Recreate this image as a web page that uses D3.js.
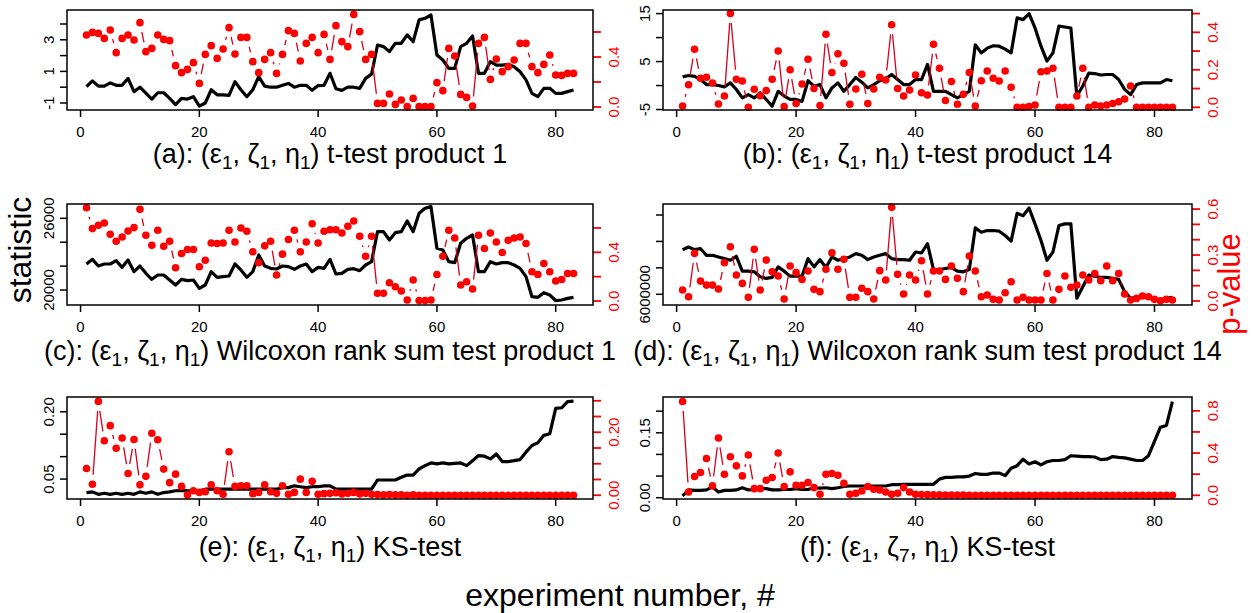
<!DOCTYPE html>
<html><head><meta charset="utf-8">
<script src="https://cdn.jsdelivr.net/npm/d3@7"></script>
<style>body{margin:0;background:#fff} text{font-family:"Liberation Sans",Arial,sans-serif}</style>
</head><body><svg id="chart" width="1251" height="613"></svg>
<script>
const experiments = d3.range(1, 84);
const xTicks = [0, 20, 40, 60, 80];

const statA = [0.03,0.4,0.07,0.07,0.27,0.12,0.12,0.56,-0.28,0.0,-0.37,-0.75,-0.35,-0.35,-0.71,-1.1,-0.71,-0.75,-0.6,-1.2,-1.0,-0.16,-0.48,-0.48,-0.52,0.35,-0.16,-0.6,-0.16,0.67,0.07,0.0,0.0,0.12,0.24,0.0,0.12,0.12,-0.2,0.1,0.12,0.88,-0.1,-0.2,0.0,0.0,-0.07,0.56,0.83,2.67,2.57,2.25,2.78,2.78,3.31,2.88,4.26,4.36,4.57,2.04,1.72,1.19,1.19,2.57,2.78,3.24,0.88,0.88,1.62,1.4,1.4,1.45,1.3,0.98,0.46,-0.39,-0.6,-0.07,-0.07,-0.39,-0.39,-0.28,-0.18];
const pA = [0.576,0.597,0.589,0.549,0.616,0.435,0.549,0.576,0.536,0.675,0.443,0.469,0.576,0.541,0.531,0.331,0.275,0.301,0.355,0.189,0.421,0.491,0.389,0.464,0.635,0.424,0.557,0.557,0.363,0.275,0.381,0.435,0.269,0.421,0.611,0.589,0.368,0.509,0.557,0.435,0.581,0.381,0.651,0.523,0.483,0.741,0.603,0.381,0.421,0.029,0.029,0.104,0.021,0.056,0.003,0.069,0.003,0.003,0.003,0.195,0.131,0.469,0.408,0.101,0.077,0.008,0.509,0.557,0.221,0.384,0.283,0.323,0.376,0.509,0.509,0.323,0.275,0.341,0.416,0.256,0.253,0.269,0.269];

const statB = [1.8,2.1,1.9,1.25,0.2,0.2,0.0,-0.28,0.56,-0.83,-2.57,-1.9,-2.57,-1.5,-2.9,-4.3,-1.2,-2.2,-2.9,-2.9,-3.3,1.0,-0.14,0.2,-2.57,-0.5,0.56,-1.2,0.2,1.7,0.7,-0.5,0.2,1.0,1.4,2.3,1.25,0.2,0.2,1.25,1.25,4.4,-1.2,-1.2,-1.2,-1.9,-2.57,-1.9,-1.2,8.5,6.8,7.8,8.3,8.2,7.6,6.8,14.1,13.75,15.0,12.0,8.2,5.1,6.8,12.4,12.2,12.0,-2.2,-0.1,2.6,2.5,2.2,2.3,2.3,1.25,-0.8,-1.9,0.2,0.56,0.56,0.56,0.56,1.25,1.0];
const pB = [0.007,0.12,0.31,0.155,0.16,0.13,0.018,0.06,0.5,0.15,0.14,0.0,0.096,0.062,0.089,0.15,0.3,0.004,0.2,0.02,0.124,0.256,0.1,0.01,0.39,0.185,0.285,0.235,0.016,0.098,0.176,0.02,0.098,0.16,0.146,0.44,0.1,0.06,0.092,0.172,0.078,0.066,0.336,0.208,0.036,0.137,0.016,0.069,0.185,0.007,0.142,0.194,0.155,0.14,0.194,0.107,0.0,0.0,0.004,0.012,0.19,0.194,0.208,0.0,0.0,0.0,0.06,0.208,0.0,0.012,0.007,0.012,0.02,0.03,0.044,0.114,0.0,0.0,0.0,0.0,0.0,0.0,0.0];

const statC = [22176,22567,22009,22176,22176,22455,21897,22511,21535,22009,21395,20893,21256,21256,20837,20419,20893,20781,20837,20140,20419,21535,21060,21116,21172,22176,21674,21060,21535,22930,22009,21814,21758,22009,21953,21730,22009,22176,21535,21897,21814,22567,21339,21395,21730,21786,21618,22093,22372,24883,24883,24185,24799,24883,25776,24883,26417,26836,26975,23488,23348,22372,22288,23906,24325,24604,21535,21535,22372,22176,22288,22288,22093,21814,21116,19442,19386,19777,19582,19107,19163,19302,19386];
const pC = [0.766,0.595,0.622,0.641,0.548,0.491,0.526,0.575,0.603,0.753,0.54,0.458,0.581,0.45,0.491,0.273,0.39,0.423,0.423,0.281,0.335,0.477,0.472,0.477,0.581,0.485,0.6,0.573,0.404,0.314,0.453,0.491,0.213,0.385,0.505,0.581,0.404,0.485,0.635,0.477,0.573,0.586,0.586,0.559,0.614,0.657,0.532,0.368,0.532,0.063,0.063,0.15,0.117,0.082,0.008,0.172,0.003,0.003,0.008,0.218,0.368,0.581,0.518,0.131,0.158,0.098,0.54,0.431,0.559,0.485,0.398,0.499,0.518,0.526,0.472,0.24,0.218,0.308,0.24,0.164,0.177,0.226,0.226];

const statD = [7687500,7787500,7687500,7725000,7475000,7475000,7412500,7350000,7287500,7437500,6875000,6875000,6850000,6662500,6600000,6637500,7037500,6875000,6687500,6687500,6687500,7350000,7037500,7312500,7012500,7412500,7287500,7350000,7412500,7537500,7475000,7312500,7412500,7475000,7537500,7350000,7312500,7312500,7287500,7600000,7562500,7912500,6937500,6937500,6975000,7012500,6875000,6850000,6937500,8512500,8350000,8412500,8412500,8387500,8225000,8012500,9062500,8975000,9262500,8662500,8037500,7287500,7600000,8600000,8662500,8662500,5850000,6287500,6725000,6687500,6637500,6637500,6600000,6562500,6100000,5850000,5887500,5912500,5850000,5812500,5787500,5850000,5887500];
const pD = [0.072,0.028,0.311,0.13,0.104,0.104,0.078,0.25,0.354,0.17,0.115,0.024,0.337,0.072,0.267,0.191,0.163,0.013,0.228,0.185,0.141,0.196,0.076,0.061,0.207,0.315,0.207,0.272,0.024,0.024,0.083,0.061,0.013,0.198,0.137,0.611,0.174,0.046,0.17,0.137,0.263,0.046,0.196,0.196,0.141,0.228,0.148,0.061,0.293,0.196,0.028,0.039,0.011,0.007,0.054,0.126,0.007,0.024,0.007,0.007,0.007,0.18,0.007,0.076,0.163,0.089,0.104,0.17,0.137,0.18,0.133,0.228,0.133,0.18,0.046,0.007,0.017,0.033,0.028,0.011,0.002,0.011,0.007];

const statE = [0.020,0.0215,0.016,0.0185,0.016,0.0185,0.016,0.0185,0.016,0.0215,0.0185,0.0215,0.016,0.020,0.0215,0.024,0.025,0.024,0.024,0.024,0.0275,0.0275,0.0275,0.0275,0.0275,0.0275,0.0275,0.0275,0.0275,0.0275,0.0275,0.0275,0.0275,0.031,0.031,0.035,0.033,0.031,0.033,0.033,0.035,0.035,0.0275,0.0275,0.0275,0.0275,0.0275,0.0275,0.0275,0.048,0.048,0.048,0.048,0.054,0.059,0.059,0.0725,0.080,0.086,0.084,0.086,0.084,0.085,0.086,0.080,0.091,0.1025,0.101,0.095,0.106,0.089,0.089,0.091,0.0935,0.11,0.125,0.131,0.1475,0.151,0.2075,0.209,0.2225,0.224];
const pE = [0.085,0.035,0.298,0.173,0.221,0.149,0.182,0.069,0.177,0.033,0.06,0.197,0.176,0.083,0.04,0.067,0.028,0.001,0.014,0.009,0.011,0.033,0.014,0.003,0.138,0.028,0.03,0.03,0.005,0.009,0.033,0.011,0.006,0.03,0.003,0.009,0.051,0.009,0.044,0.003,0.005,0.006,0.008,0.004,0.006,0.009,0.004,0.006,0.003,0.002,0.001,0.002,0.001,0.001,0.0,0.001,0,0,0,0,0,0,0,0,0,0,0,0,0,0,0,0,0,0,0,0,0,0,0,0,0,0,0];

const statF = [0.004,0.018,0.017,0.017,0.018,0.025,0.013,0.017,0.017,0.018,0.023,0.018,0.019,0.021,0.021,0.018,0.018,0.019,0.019,0.021,0.019,0.019,0.023,0.022,0.023,0.021,0.023,0.026,0.027,0.027,0.027,0.027,0.027,0.027,0.027,0.030,0.030,0.031,0.031,0.031,0.031,0.031,0.031,0.043,0.047,0.047,0.048,0.048,0.050,0.056,0.054,0.054,0.057,0.057,0.051,0.068,0.074,0.089,0.078,0.083,0.076,0.083,0.086,0.086,0.088,0.097,0.096,0.095,0.095,0.094,0.088,0.089,0.095,0.093,0.092,0.089,0.086,0.086,0.097,0.13,0.163,0.167,0.222];
const pF = [0.889,0.032,0.178,0.216,0.349,0.089,0.543,0.2,0.365,0.279,0.184,0.381,0.063,0.063,0.143,0.168,0.4,0.083,0.222,0.095,0.095,0.121,0.073,0.01,0.2,0.206,0.19,0.114,0.01,0.019,0.041,0.083,0.057,0.051,0.032,0.01,0.019,0.073,0.032,0.01,0.008,0.006,0.005,0.004,0.003,0.003,0.002,0.002,0.001,0.001,0,0,0,0,0,0,0,0,0,0,0,0,0,0,0,0,0,0,0,0,0,0,0,0,0,0,0,0,0,0,0,0,0];

const statTicksA = [-1,0,1,2,3,4], statLabelsA = [-1,1,3];
const pTicksA = [0,0.2,0.4,0.6], pLabelsA = ["0.0",null,"0.4",null];
const statTicksB = [-5,0,5,10,15], statLabelsB = [-5,5,15];
const pTicksB = [0,0.1,0.2,0.3,0.4,0.5], pLabelsB = ["0.0",null,"0.2",null,"0.4",null];
const statTicksC = [20000,22000,24000,26000], statLabelsC = [20000,26000];
const pTicksC = [0,0.2,0.4,0.6], pLabelsC = ["0.0",null,"0.4",null];
const statTicksD = [6000000,7000000,8000000,9000000], statLabelsD = [6000000];
const pTicksD = [0,0.1,0.2,0.3,0.4,0.5,0.6], pLabelsD = ["0.0",null,null,"0.3",null,null,"0.6"];
const statTicksE = [0.05,0.10,0.15,0.20], statLabelsE = [0.05,0.20];
const pTicksE = [0,0.05,0.10,0.15,0.20,0.25,0.30], pLabelsE = ["0.00",null,null,null,"0.20",null,null];
const statTicksF = [0,0.05,0.10,0.15,0.20], statLabelsF = [0,0.15];
const pTicksF = [0,0.2,0.4,0.6,0.8], pLabelsF = ["0.0",null,"0.4",null,"0.8"];

const titles = [
  {tag:"(a)", z:"1", test:"t-test product 1"},
  {tag:"(b)", z:"1", test:"t-test product 14"},
  {tag:"(c)", z:"1", test:"Wilcoxon rank sum test product 1"},
  {tag:"(d)", z:"1", test:"Wilcoxon rank sum test product 14"},
  {tag:"(e)", z:"1", test:"KS-test"},
  {tag:"(f)", z:"7", test:"KS-test"}
];

const cols = [[67, 593], [663, 1192]];
const rows = [[10, 110], [204, 305], [397, 499]];
const titleY = [163, 360, 556];

const panels = [
  {stat:statA, p:pA, c:0, r:0, sDom:[-1.443,4.886], pDom:[-0.024,0.776], sT:statTicksA, sL:statLabelsA, pT:pTicksA, pL:pLabelsA, fmt:d=>String(d)},
  {stat:statB, p:pB, c:1, r:0, sDom:[-5.1,15.75], pDom:[-0.0144,0.519], sT:statTicksB, sL:statLabelsB, pT:pTicksB, pL:pLabelsB, fmt:d=>String(d)},
  {stat:statC, p:pC, c:0, r:1, sDom:[18745,27197], pDom:[-0.033,0.797], sT:statTicksC, sL:statLabelsC, pT:pTicksC, pL:pLabelsC, fmt:d=>String(d)},
  {stat:statD, p:pD, c:1, r:1, sDom:[5595000,9416000], pDom:[-0.026,0.633], sT:statTicksD, sL:statLabelsD, pT:pTicksD, pL:pLabelsD, fmt:d=>String(d)},
  {stat:statE, p:pE, c:0, r:2, sDom:[0.0056,0.233], pDom:[-0.012,0.312], sT:statTicksE, sL:statLabelsE, pT:pTicksE, pL:pLabelsE, fmt:d3.format(".2f")},
  {stat:statF, p:pF, c:1, r:2, sDom:[-0.003,0.2327], pDom:[-0.035,0.931], sT:statTicksF, sL:statLabelsF, pT:pTicksF, pL:pLabelsF, fmt:d3.format(".2f")}
];

const svg = d3.select("#chart");
const RED = "#ff0000";

panels.forEach((P, k) => {
  const [x0, x1] = cols[P.c], [y0, y1] = rows[P.r];
  const x = d3.scaleLinear().domain([-2.28, 86.28]).range([x0, x1]);
  const ys = d3.scaleLinear().domain(P.sDom).range([y1, y0]);
  const yp = d3.scaleLinear().domain(P.pDom).range([y1, y0]);
  const g = svg.append("g");

  const xa = g.append("g");
  xTicks.forEach(t => {
    xa.append("line").attr("x1", x(t)).attr("x2", x(t)).attr("y1", y1).attr("y2", y1 + 7).attr("stroke", "#000").attr("stroke-width", 1.5);
    xa.append("text").attr("x", x(t)).attr("y", y1 + 26.5).attr("text-anchor", "middle").attr("font-size", 15).text(t);
  });
  P.sT.forEach(t => {
    g.append("line").attr("x1", x0 - 7).attr("x2", x0).attr("y1", ys(t)).attr("y2", ys(t)).attr("stroke", "#000").attr("stroke-width", 1.5);
  });
  P.sL.forEach(t => {
    g.append("text").attr("transform", `translate(${x0 - 13},${ys(t)}) rotate(-90)`).attr("text-anchor", "middle").attr("font-size", 15).text(P.fmt(t));
  });
  P.pT.forEach((t, i) => {
    g.append("line").attr("x1", x1).attr("x2", x1 + 8).attr("y1", yp(t)).attr("y2", yp(t)).attr("stroke", RED).attr("stroke-width", 1.8);
    if (P.pL[i]) g.append("text").attr("transform", `translate(${x1 + 26},${yp(t)}) rotate(-90)`).attr("text-anchor", "middle").attr("font-size", 15).attr("fill", RED).text(P.pL[i]);
  });

  const line = d3.line().x((d, i) => x(experiments[i])).y(d => ys(d));
  g.append("path").datum(P.stat).attr("d", line).attr("fill", "none").attr("stroke", "#000").attr("stroke-width", 3.2).attr("stroke-linejoin", "round");

  const pts = P.p.map((v, i) => [x(experiments[i]), yp(v)]);
  const gap = 9.5;
  for (let i = 0; i < pts.length - 1; i++) {
    const [ax, ay] = pts[i], [bx, by] = pts[i + 1];
    const dx = bx - ax, dy = by - ay, d = Math.hypot(dx, dy);
    if (d > 2 * gap) {
      const ux = dx / d, uy = dy / d;
      g.append("line").attr("x1", ax + ux * gap).attr("y1", ay + uy * gap).attr("x2", bx - ux * gap).attr("y2", by - uy * gap)
        .attr("stroke", "#d8001c").attr("stroke-width", 1.3);
    }
  }
  g.selectAll("circle.pt").data(P.p).enter().append("circle").attr("class", "pt")
    .attr("cx", (d, i) => x(experiments[i])).attr("cy", d => yp(d)).attr("r", 3.8).attr("fill", RED);

  g.append("rect").attr("x", x0).attr("y", y0).attr("width", x1 - x0).attr("height", y1 - y0).attr("fill", "none").attr("stroke", "#000").attr("stroke-width", 1.5);

  const T = titles[k];
  const t = g.append("text").attr("x", (x0 + x1) / 2).attr("y", titleY[P.r]).attr("text-anchor", "middle").attr("font-size", 27);
  t.append("tspan").text(T.tag + ": (ε");
  t.append("tspan").attr("font-size", 19).attr("dy", 6).text("1");
  t.append("tspan").attr("dy", -6).text(", ζ");
  t.append("tspan").attr("font-size", 19).attr("dy", 6).text(T.z);
  t.append("tspan").attr("dy", -6).text(", η");
  t.append("tspan").attr("font-size", 19).attr("dy", 6).text("1");
  t.append("tspan").attr("dy", -6).text(") " + T.test);
});

svg.append("text").attr("transform", "translate(31,250) rotate(-90)").attr("text-anchor", "middle").attr("font-size", 32).text("statistic");
svg.append("text").attr("transform", "translate(1240,284) rotate(-90)").attr("text-anchor", "middle").attr("font-size", 31).attr("fill", RED).text("p-value");
svg.append("text").attr("x", 620).attr("y", 606).attr("text-anchor", "middle").attr("font-size", 32).text("experiment number, #");
</script></body></html>
